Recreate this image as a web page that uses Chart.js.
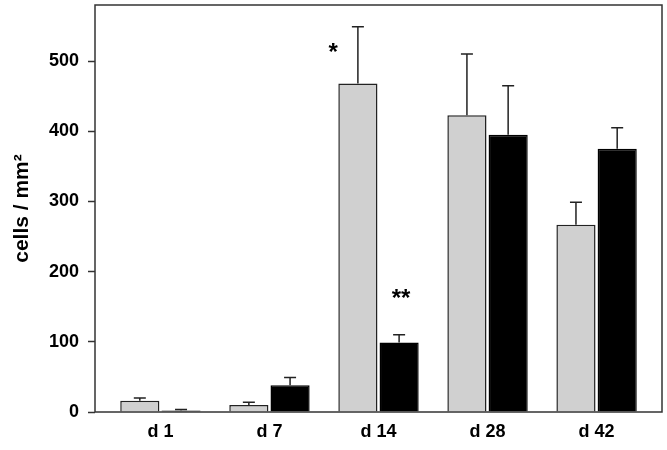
<!DOCTYPE html>
<html>
<head>
<meta charset="utf-8">
<script src="https://cdn.jsdelivr.net/npm/chart.js@4"></script>
<style>
  html, body { margin: 0; padding: 0; background: #fff; }
  #wrap { width: 667px; height: 450px; }
</style>
</head>
<body>
<div id="wrap"><canvas id="myChart" width="667" height="450"></canvas></div>
<script>
// values
const days = ['d 1', 'd 7', 'd 14', 'd 28', 'd 42']
const grayMeans = [16, 10, 468, 423, 267]
const grayErr = [4, 4, 81, 87, 32]
const blackMeans = [2, 38, 99, 395, 375]
const blackErr = [1.5, 11, 11, 70, 30]
const yTicks = [0, 100, 200, 300, 400, 500]

// significance marks: dataset, day index, text, value where the text baseline sits
const stars = [
  { ds: 0, idx: 2, text: '*', y: 501, side: 'left' },
  { ds: 1, idx: 2, text: '**', y: 151, side: 'center' }
]

const errs = [grayErr, blackErr]
const fontFam = '"Liberation Sans", Arial, sans-serif'

const boxPlugin = {
  id: 'box',
  afterDraw(chart) {
    const a = chart.chartArea
    const c = chart.ctx
    c.save()
    c.strokeStyle = '#333'
    c.lineWidth = 1.5
    c.strokeRect(a.left, a.top, a.right - a.left, a.bottom - a.top)
    c.restore()
  }
}

const errPlugin = {
  id: 'errbars',
  afterDatasetsDraw(chart) {
    const c = chart.ctx
    const y = chart.scales.y
    c.save()
    c.strokeStyle = '#222'
    c.lineWidth = 1.5
    chart.data.datasets.forEach((ds, di) => {
      const meta = chart.getDatasetMeta(di)
      meta.data.forEach((bar, i) => {
        const v = ds.data[i].y
        const top = y.getPixelForValue(v + errs[di][i])
        c.beginPath()
        c.moveTo(bar.x, bar.y)
        c.lineTo(bar.x, top)
        c.moveTo(bar.x - 6, top)
        c.lineTo(bar.x + 6, top)
        c.stroke()
      })
    })
    // asterisks
    c.fillStyle = '#000'
    c.font = 'bold 24px ' + fontFam
    c.textBaseline = 'alphabetic'
    stars.forEach(s => {
      const bar = chart.getDatasetMeta(s.ds).data[s.idx]
      const py = y.getPixelForValue(s.y)
      if (s.side == 'left') {
        c.textAlign = 'right'
        c.fillText(s.text, bar.x - bar.width / 2 - 0.5, py)
      } else {
        c.textAlign = 'center'
        c.fillText(s.text, bar.x + 2, py)
      }
    })
    c.restore()
  }
}

const ctx = document.getElementById('myChart').getContext('2d')
new Chart(ctx, {
  type: 'bar',
  data: {
    datasets: [{
      label: 'gray',
      data: grayMeans.map((v, i) => ({ x: i, y: v })),
      backgroundColor: '#d0d0d0',
      borderColor: '#222',
      borderWidth: 1.5,
      barPercentage: 0.95,
      categoryPercentage: 0.756
    }, {
      label: 'black',
      data: blackMeans.map((v, i) => ({ x: i, y: v })),
      backgroundColor: '#000',
      borderColor: '#000',
      borderWidth: 1.5,
      barPercentage: 0.95,
      categoryPercentage: 0.756
    }]
  },
  options: {
    responsive: false,
    animation: false,
    layout: { padding: { top: 5, right: 5, left: 0, bottom: 0 } },
    plugins: {
      legend: { display: false },
      tooltip: { enabled: false }
    },
    scales: {
      x: {
        type: 'linear',
        offset: false,
        min: -0.6,
        max: 4.6,
        grid: { display: false, drawTicks: false, offset: false },
        border: { display: false },
        afterFit: s => {
          s.height = 38
          s.paddingLeft = 0
          s.paddingRight = 0
        },
        afterBuildTicks: s => {
          s.ticks = days.map((d, i) => ({ value: i }))
        },
        ticks: {
          padding: 9,
          autoSkip: false,
          maxRotation: 0,
          color: '#000',
          font: { family: fontFam, size: 18, weight: 'bold' },
          callback: v => days[v] || ''
        }
      },
      y: {
        min: 0,
        max: 580,
        afterFit: s => {
          s.width = 95
          s.paddingTop = 0
          s.paddingBottom = 0
        },
        afterBuildTicks: s => {
          s.ticks = yTicks.map(v => ({ value: v }))
        },
        grid: { drawOnChartArea: false, tickLength: 7, tickColor: '#333', tickWidth: 1.5 },
        border: { display: false },
        ticks: {
          padding: 9,
          color: '#000',
          font: { family: fontFam, size: 18, weight: 'bold' }
        },
        title: {
          display: true,
          text: 'cells / mm²',
          color: '#000',
          padding: { top: 10, bottom: 8 },
          font: { family: fontFam, size: 21, weight: 'bold' }
        }
      }
    }
  },
  plugins: [boxPlugin, errPlugin]
})
</script>
</body>
</html>
